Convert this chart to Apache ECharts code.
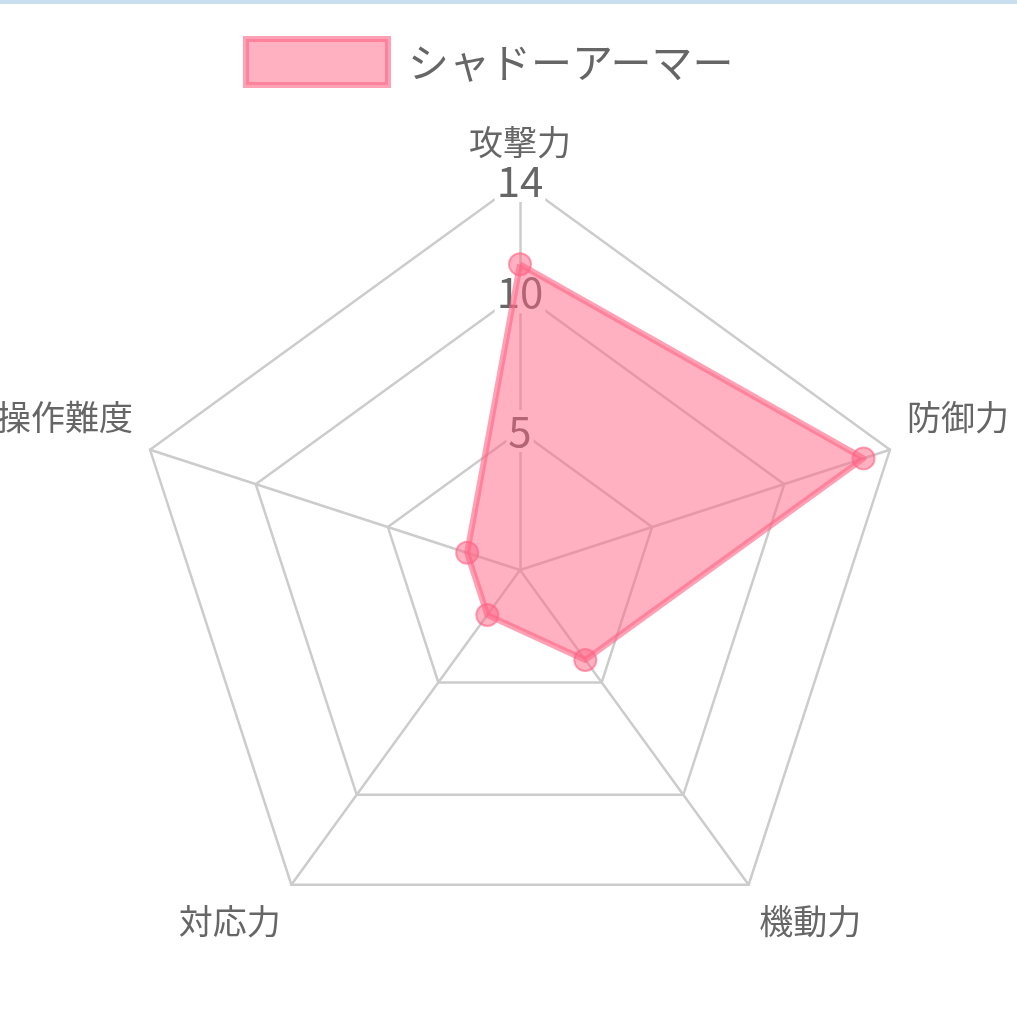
<!DOCTYPE html>
<html>
<head>
<meta charset="utf-8">
<script src="https://cdn.jsdelivr.net/npm/echarts@6/dist/echarts.min.js"></script>
<style>
  html, body { margin: 0; padding: 0; background: #fff; }
  #topline { position: absolute; left: 0; top: 0; width: 1017px; height: 4px; background: #c9dff0; z-index: 2; }
  #chart { width: 1017px; height: 1024px; }
</style>
</head>
<body>
<div id="topline"></div>
<div id="chart"></div>
<script>
/* ---------------------------------- Data ---------------------------------- */
// ECharts lays radar axes out counter-clockwise, so the list runs
// top -> upper left -> lower left -> lower right -> upper right
const seriesName = 'シャドーアーマー';
const indicators = ['攻撃力', '操作難度', '対応力', '機動力', '防御力'];
const values = [11, 2, 2, 4, 13];
const scaleMax = 14;
const tickLabels = [5, 10, 14];

const PINK = 'rgba(255, 99, 132, 0.5)';
const PINK_LINE = 'rgba(255, 99, 132, 0.6)';
const GRID = '#cccccc';
const TEXT = '#666666';
const FONT = '"Noto Sans CJK JP", "Noto Sans", sans-serif';

// one ring per unit, only 5 / 10 / 14 get a visible colour
const ringColors = Array.from({ length: scaleMax + 1 }, (v, i) =>
  tickLabels.includes(i) ? GRID : 'rgba(0,0,0,0)'
);

// name placement like the original: sides sit a bit higher, bottom ones lower
const nameStyle = (i) => (i === 0 ? 'top' : i === 1 || i === 4 ? 'side' : 'bottom');
const nameRich = {
  top: { color: TEXT, fontSize: 34, fontFamily: FONT, padding: [0, 0, 4, 0] },
  side: { color: TEXT, fontSize: 34, fontFamily: FONT, padding: [0, 0, 54, 0] },
  bottom: { color: TEXT, fontSize: 34, fontFamily: FONT, padding: [44, 0, 0, 0] }
};

const chart = echarts.init(document.getElementById('chart'));

chart.setOption({
  animation: false,
  legend: {
    data: [seriesName],
    left: 243,
    top: 36,
    padding: 0,
    itemWidth: 142,
    itemHeight: 46,
    icon: 'rect',
    itemStyle: {
      color: PINK,
      borderColor: PINK_LINE,
      borderWidth: 6
    },
    textStyle: { color: TEXT, fontSize: 41, fontFamily: FONT, padding: [0, 0, 0, 15] }
  },
  radar: {
    center: [520, 570],
    radius: 389,
    shape: 'polygon',
    splitNumber: scaleMax,
    nameGap: 18,
    axisName: {
      formatter: (name) => `{${nameStyle(indicators.indexOf(name))}|${name}}`,
      rich: nameRich
    },
    indicator: indicators.map((name, i) => ({
      name,
      min: 0,
      max: scaleMax,
      axisLabel: { show: i === 0 }
    })),
    axisLine: { lineStyle: { color: GRID, width: 2.5 } },
    axisTick: { show: false },
    splitLine: { lineStyle: { color: ringColors, width: 2.5 } },
    splitArea: { show: false },
    axisLabel: {
      show: false,
      margin: 0,
      align: 'center',
      verticalAlign: 'middle',
      color: TEXT,
      fontSize: 42,
      fontFamily: FONT,
      backgroundColor: '#fff',
      padding: [0, 2],
      formatter: v => (tickLabels.includes(v) ? String(v) : '')
    }
  },
  series: [
    {
      name: seriesName,
      type: 'radar',
      symbol: 'circle',
      symbolSize: 22,
      lineStyle: { color: PINK_LINE, width: 6 },
      itemStyle: { color: PINK, borderColor: PINK_LINE, borderWidth: 2 },
      areaStyle: { color: PINK, opacity: 1 },
      data: [{ name: seriesName, value: values }]
    }
  ]
});
</script>
</body>
</html>
